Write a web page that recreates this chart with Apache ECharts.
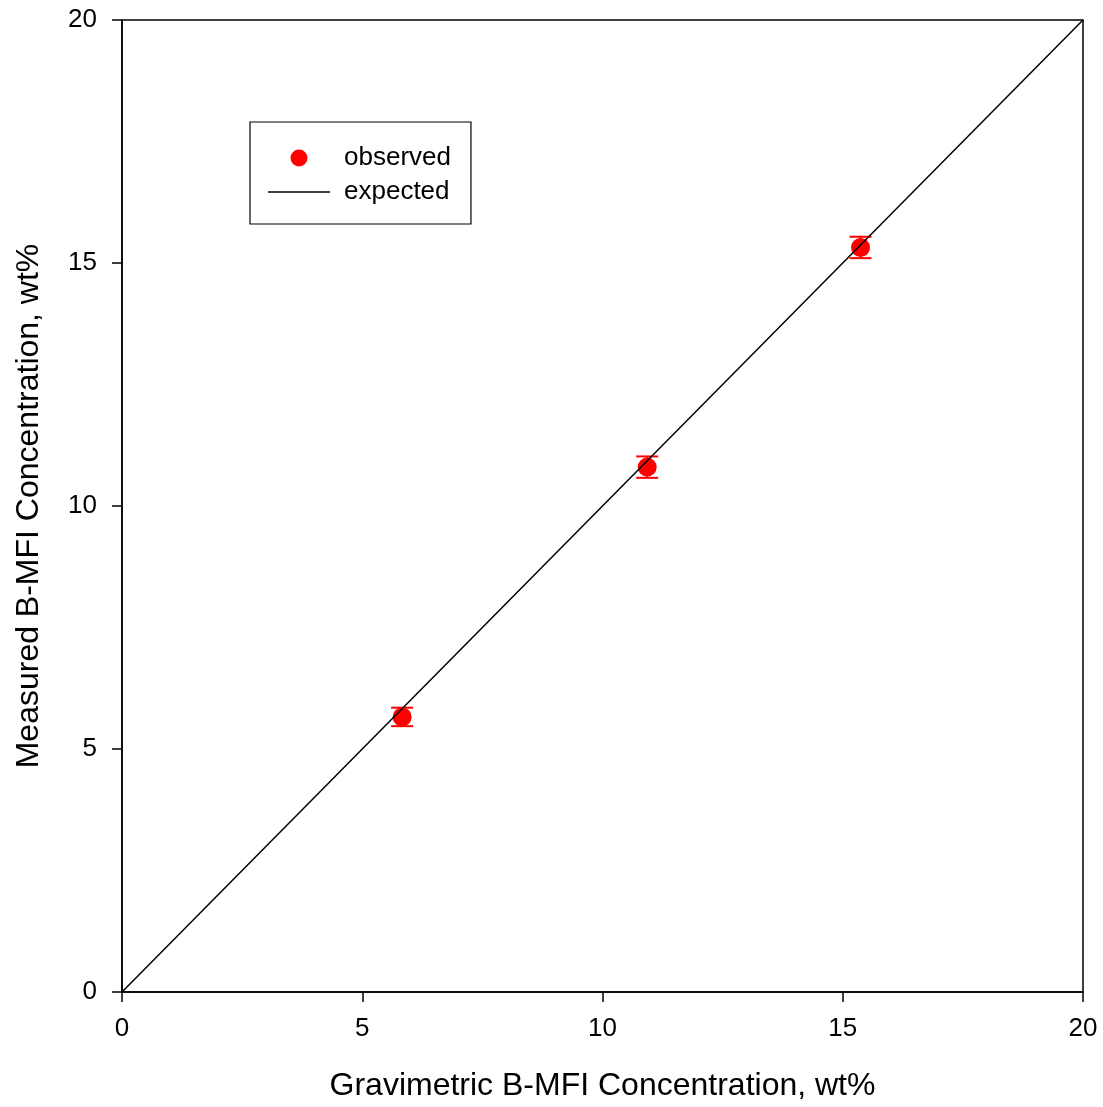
<!DOCTYPE html>
<html>
<head>
<meta charset="utf-8">
<script src="https://cdn.jsdelivr.net/npm/echarts@6/dist/echarts.min.js"></script>
<style>
  html, body { margin: 0; padding: 0; background: #fff; }
  #chart { width: 1103px; height: 1107px; }
</style>
</head>
<body>
<div id="chart"></div>
<script>
// Gravimetric vs measured B-MFI concentration (wt%)
const gravimetric = [5.83, 10.93, 15.37];
const measured = [5.66, 10.80, 15.32];
const measuredErr = [0.19, 0.22, 0.22];
const expectedLine = [[0, 0], [20, 20]];

const FONT = '"Liberation Sans", Arial, sans-serif';

const observedPts = gravimetric.map((x, i) => [x, measured[i]]);
const errorPts = gravimetric.map((x, i) => [x, measured[i] - measuredErr[i], measured[i] + measuredErr[i]]);

const chart = echarts.init(document.getElementById('chart'), null, { renderer: 'canvas' });

const axisCommon = {
  type: 'value',
  min: 0,
  max: 20,
  interval: 5,
  axisLine: { show: true, onZero: false, lineStyle: { color: '#000', width: 1.5 } },
  axisTick: { show: true, inside: false, length: 10, lineStyle: { color: '#000', width: 1.5 } },
  splitLine: { show: false },
  nameLocation: 'middle',
  nameTextStyle: { color: '#000', fontSize: 32, fontFamily: FONT }
};

chart.setOption({
  animation: false,
  backgroundColor: '#fff',
  grid: {
    left: 122, right: 20, top: 20, bottom: 115,
    show: true, borderColor: '#000', borderWidth: 1.5, backgroundColor: 'transparent'
  },
  legend: {
    orient: 'vertical',
    left: 250,
    top: 122,
    padding: [23, 20, 19, 18],
    itemWidth: 62,
    itemHeight: 17,
    itemGap: 8,
    borderColor: '#000',
    borderWidth: 1.2,
    textStyle: { color: '#000', fontSize: 26, fontFamily: FONT, padding: [0, 0, 0, 9] },
    data: [
      { name: 'observed', icon: 'circle' },
      { name: 'expected', icon: 'path://M0,0 L62,0 L62,1.5 L0,1.5 Z' }
    ]
  },
  xAxis: Object.assign({}, axisCommon, {
    name: 'Gravimetric B-MFI Concentration, wt%',
    nameGap: 78,
    axisLabel: { color: '#000', fontSize: 26, fontFamily: FONT, margin: 24 }
  }),
  yAxis: Object.assign({}, axisCommon, {
    name: 'Measured B-MFI Concentration, wt%',
    nameGap: 77,
    axisLabel: { color: '#000', fontSize: 26, fontFamily: FONT, margin: 25 }
  }),
  series: [
    {
      name: 'expected',
      type: 'line',
      data: expectedLine,
      symbol: 'none',
      showSymbol: false,
      lineStyle: { color: '#000', width: 1.5 },
      itemStyle: { color: '#000' },
      z: 3
    },
    {
      name: 'observed',
      type: 'scatter',
      data: observedPts,
      symbol: 'circle',
      symbolSize: 19,
      itemStyle: { color: '#ff0000', opacity: 1 },
      z: 2
    },
    {
      name: 'errors',
      type: 'custom',
      data: errorPts,
      z: 2,
      renderItem: function (params, api) {
        const x = api.value(0);
        const lo = api.coord([x, api.value(1)]);
        const hi = api.coord([x, api.value(2)]);
        const half = 11;
        const style = { stroke: '#ff0000', lineWidth: 2, fill: null };
        return {
          type: 'group',
          children: [
            { type: 'line', shape: { x1: lo[0], y1: lo[1], x2: hi[0], y2: hi[1] }, style: style },
            { type: 'line', shape: { x1: lo[0] - half, y1: lo[1], x2: lo[0] + half, y2: lo[1] }, style: style },
            { type: 'line', shape: { x1: hi[0] - half, y1: hi[1], x2: hi[0] + half, y2: hi[1] }, style: style }
          ]
        };
      },
      encode: { x: 0, y: [1, 2] }
    }
  ]
});
</script>
</body>
</html>
